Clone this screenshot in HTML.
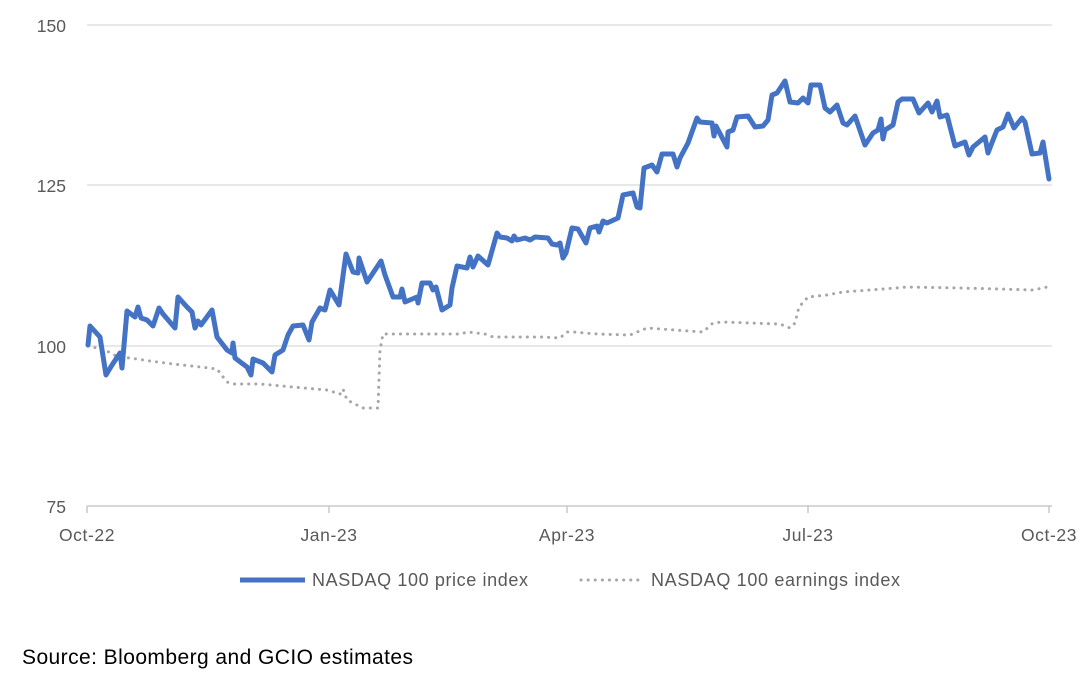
<!DOCTYPE html>
<html><head><meta charset="utf-8"><style>
body{margin:0;background:#fff;width:1082px;height:680px;overflow:hidden}
svg{display:block}
text{font-family:"Liberation Sans",sans-serif}
</style></head><body>
<svg width="1082" height="680" viewBox="0 0 1082 680">
<g stroke="#d9d9d9" stroke-width="1.3">
<line x1="87" y1="25" x2="1052" y2="25"/>
<line x1="87" y1="185" x2="1052" y2="185"/>
<line x1="87" y1="346" x2="1052" y2="346"/>
</g>
<line x1="87" y1="506" x2="1052" y2="506" stroke="#bfbfbf" stroke-width="1.3"/>
<g stroke="#bfbfbf" stroke-width="1.3">
<line x1="87" y1="506" x2="87" y2="513"/><line x1="329" y1="506" x2="329" y2="513"/>
<line x1="567" y1="506" x2="567" y2="513"/><line x1="808" y1="506" x2="808" y2="513"/>
<line x1="1049" y1="506" x2="1049" y2="513"/>
</g>
<g fill="#595959" font-size="17.5" text-anchor="end">
<text x="66" y="32">150</text><text x="66" y="192">125</text>
<text x="66" y="353">100</text><text x="66" y="513">75</text>
</g>
<g fill="#595959" font-size="17.5" text-anchor="middle" letter-spacing="0.6">
<text x="87" y="541">Oct-22</text><text x="329" y="541">Jan-23</text>
<text x="567" y="541">Apr-23</text><text x="808" y="541">Jul-23</text>
<text x="1049" y="541">Oct-23</text>
</g>
<polyline fill="none" stroke="#a6a6a6" stroke-width="3" stroke-dasharray="0.1 7" stroke-linecap="round" points="88,346 105,350 118,357 130,358 150,361 173,364 192,366 217,369 227,382 233,384 260,384 293,387 327,390 340,394 343,389 347,400 363,408 378,408 380,350 383,334 413,334 460,334 468,332 485,334 493,337 543,337 560,338 567,332 573,332 597,334 630,335 647,328 703,332 713,323 722,322 780,324 790,328 795,323 799,307 808,297 827,295 843,292 883,289 908,287 960,288 1000,289 1033,290 1052,286"/>
<polyline fill="none" stroke="#4472c4" stroke-width="5" stroke-linejoin="round" stroke-linecap="round" points="88,345 90,326 100,337 106,375 112,365 120,353 122,368 127,311 135,317 138,307 141,318 147,320 153,326 159,308 163,314 175,328 178,297 187,307 192,312 195,328 198,321 201,325 212,310 217,337 227,350 232,353 233,343 235,358 247,367 251,375 253,359 263,363 272,372 275,355 283,350 288,335 293,326 303,325 309,340 312,322 320,308 325,310 330,290 339,305 346,254 353,272 358,273 359,258 367,282 381,261 385,275 393,297 400,297 402,289 405,302 417,297 418,303 422,283 430,283 433,290 436,287 442,310 450,305 452,288 457,266 467,268 470,257 473,267 478,256 488,265 497,233 500,237 507,238 512,241 514,236 517,240 525,238 530,240 535,237 548,238 552,244 557,245 560,243 563,258 566,253 572,228 578,229 586,243 590,228 597,226 599,232 603,221 607,223 618,218 623,195 633,193 637,207 640,208 644,168 652,165 657,172 662,154 673,154 677,167 680,158 688,143 697,118 700,122 712,123 714,136 716,126 727,147 728,132 733,130 737,117 748,116 755,127 763,126 768,120 772,95 777,93 785,81 790,102 798,103 803,98 808,103 811,85 820,85 825,108 830,112 837,105 843,123 847,125 855,116 865,145 873,133 878,130 881,119 883,139 885,130 893,125 898,102 902,99 913,99 919,113 928,103 932,112 937,101 940,117 947,115 955,146 965,142 969,155 973,147 985,137 988,153 993,140 997,130 1003,127 1008,114 1014,128 1022,118 1025,122 1032,154 1040,153 1043,142 1049,179"/>
<line x1="240" y1="580" x2="305" y2="580" stroke="#4472c4" stroke-width="5"/>
<text x="312" y="586" font-size="18" fill="#595959" textLength="216">NASDAQ 100 price index</text>
<line x1="581" y1="580" x2="643" y2="580" stroke="#a6a6a6" stroke-width="3" stroke-dasharray="0.1 7" stroke-linecap="round"/>
<text x="651" y="586" font-size="18" fill="#595959" textLength="249">NASDAQ 100 earnings index</text>
<text x="22" y="664" font-size="21" fill="#000" textLength="391">Source: Bloomberg and GCIO estimates</text>
</svg>
</body></html>
